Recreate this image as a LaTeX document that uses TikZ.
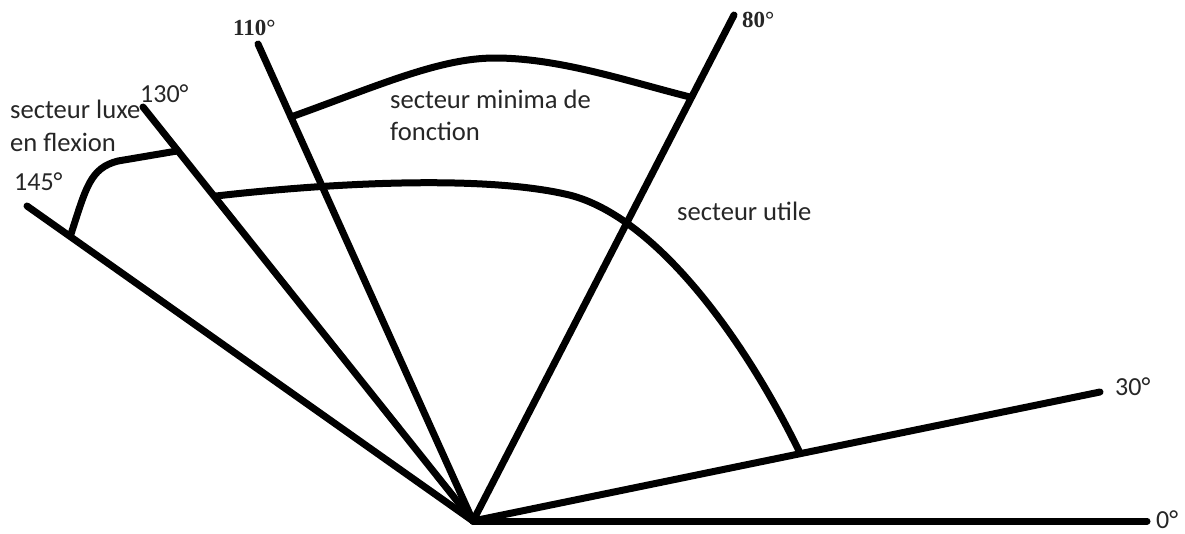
\documentclass[tikz,border=0pt]{standalone}
\usepackage{fontspec}
\setmainfont{Carlito}
\newfontfamily\degserif{Liberation Serif}
\begin{document}
\begin{tikzpicture}[x=1pt,y=-1pt,
  ray/.style={line width=7pt,line cap=round},
  arcline/.style={line width=7pt,line cap=round},
  lbl/.style={anchor=base west,inner sep=0pt,text=black!85,font=\fontsize{26.6}{30}\selectfont},
  deg/.style={anchor=base west,inner sep=0pt,text=black!85,font=\fontsize{26}{30}\selectfont},
  degs/.style={anchor=base west,inner sep=0pt,text=black!85,font=\degserif\bfseries\fontsize{23}{26}\selectfont}]
\useasboundingbox (0,0) rectangle (1185,533);
\coordinate (O) at (473,521);
\coordinate (e0) at (1147,521);
\coordinate (e30) at (1100,392);
\coordinate (e80) at (734,15);
\coordinate (e110) at (258,44);
\coordinate (e130) at (143,107);
\coordinate (e145) at (27,206);
\draw[ray] (O) -- (e0);
\draw[ray] (O) -- (e30);
\draw[ray] (O) -- (e80);
\draw[ray] (O) -- (e110);
\draw[ray] (O) -- (e130);
\draw[ray] (O) -- (e145);
% arcs
\coordinate (u1) at (216,196);
\coordinate (u2) at (800,453);
\draw[arcline] (u1) .. controls (330,183) and (480,175) .. (565,194) .. controls (650,212) and (740,330) .. (u2);
\coordinate (m1) at (291,117);
\coordinate (m2) at (690,97);
\draw[arcline] (m1) .. controls (380,85) and (440,58) .. (495,58) .. controls (560,58) and (630,82) .. (m2);
\coordinate (l1) at (71,234);
\coordinate (l2) at (177,151);
\draw[arcline] (l1) .. controls (86,188) and (90,168) .. (118,161) -- (l2);
% labels
\node[degs] (t110) at (233,35) {110°};
\node[degs] (t80) at (742,27) {80°};
\node[deg] (t130) at (140,102) {130°};
\node[deg] (t145) at (14,190) {145°};
\node[deg] (t30) at (1115,395) {30°};
\node[deg] (t0) at (1156,528) {0°};
\node[lbl] (luxe1) at (10,118) {secteur luxe};
\node[lbl] (luxe2) at (10,151) {en flexion};
\node[lbl] (min1) at (390,108) {secteur minima de};
\node[lbl] (min2) at (390,140) {fonction};
\node[lbl] (util) at (677,220) {secteur utile};
\end{tikzpicture}
\end{document}
